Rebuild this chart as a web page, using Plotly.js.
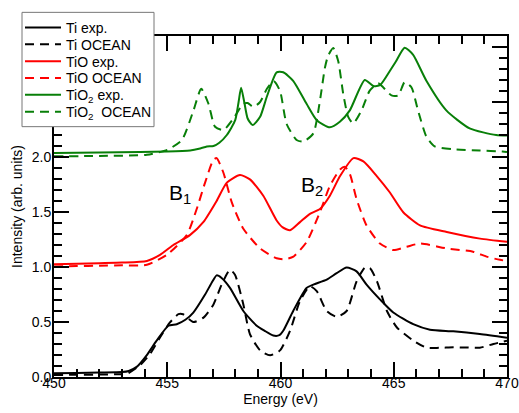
<!DOCTYPE html>
<html>
<head>
<meta charset="utf-8">
<script src="https://cdn.plot.ly/plotly-3.0.1.min.js"></script>
<style>html,body{margin:0;padding:0;background:#fff;}#chart{width:519px;height:413px;}</style>
</head>
<body>
<div id="chart"></div>
<script>
// ---- data (energy in eV, intensity in arb. units) ----
const tiExpE = [450, 451, 452, 453, 453.3, 453.65, 454.09, 454.53, 455.05, 455.42, 455.8, 456.15, 456.67, 457.0, 457.18, 457.4, 457.77, 458.36, 458.95, 459.3, 459.68, 459.95, 460.12, 460.56, 461.15, 461.45, 462.04, 462.48, 462.92, 463.36, 463.8, 464.39, 464.98, 465.86, 466.6, 467.63, 468.8, 470];
const tiExpI = [0.033, 0.036, 0.04, 0.045, 0.055, 0.092, 0.197, 0.33, 0.466, 0.48, 0.52, 0.586, 0.75, 0.87, 0.924, 0.90, 0.81, 0.60, 0.466, 0.42, 0.377, 0.38, 0.42, 0.60, 0.81, 0.84, 0.885, 0.944, 0.995, 0.96, 0.84, 0.706, 0.586, 0.48, 0.43, 0.415, 0.39, 0.356];

const tiOcE = [450, 451, 452, 452.8, 453.2, 453.8, 454.24, 454.68, 455.12, 455.49, 455.7, 456.15, 456.6, 457.04, 457.4, 457.77, 457.99, 458.36, 458.65, 459.1, 459.54, 459.98, 460.42, 460.86, 461.3, 461.6, 462.04, 462.48, 462.92, 463.36, 463.73, 463.95, 464.26, 464.7, 465.14, 465.87, 466.45, 467.0, 467.63, 468.2, 468.8, 469.4, 470];
const tiOcI = [0.018, 0.02, 0.022, 0.025, 0.027, 0.108, 0.21, 0.36, 0.496, 0.571, 0.57, 0.50, 0.54, 0.66, 0.84, 0.975, 0.93, 0.66, 0.39, 0.242, 0.197, 0.242, 0.42, 0.69, 0.825, 0.78, 0.60, 0.547, 0.60, 0.87, 0.995, 0.99, 0.87, 0.60, 0.45, 0.33, 0.266, 0.265, 0.27, 0.268, 0.266, 0.30, 0.33];

const tioExpE = [450, 451, 452, 453, 454.1, 454.68, 455.27, 456.0, 456.6, 457.18, 457.63, 458.21, 458.65, 459.24, 459.83, 460.1, 460.42, 460.86, 461.3, 461.74, 462.18, 462.63, 463.22, 463.66, 464.25, 464.83, 465.42, 466.16, 467.34, 468.81, 470];
const tioExpI = [1.025, 1.03, 1.035, 1.04, 1.055, 1.11, 1.2, 1.29, 1.41, 1.60, 1.767, 1.836, 1.797, 1.648, 1.423, 1.36, 1.334, 1.408, 1.483, 1.527, 1.648, 1.827, 1.99, 1.96, 1.827, 1.677, 1.498, 1.378, 1.318, 1.258, 1.229];

const tioOcE = [450, 451, 452, 453, 454.1, 454.98, 455.86, 456.3, 456.67, 457.04, 457.18, 457.48, 457.85, 458.36, 459.1, 459.83, 460.2, 460.57, 461.16, 461.74, 462.18, 462.63, 462.85, 463.07, 463.36, 463.8, 464.39, 464.98, 465.57, 466.16, 467.34, 468.5, 469.1, 469.69, 470];
const tioOcI = [1.005, 1.008, 1.012, 1.015, 1.02, 1.11, 1.29, 1.527, 1.767, 1.976, 1.99, 1.857, 1.587, 1.348, 1.169, 1.079, 1.07, 1.094, 1.229, 1.498, 1.737, 1.886, 1.91, 1.841, 1.617, 1.378, 1.213, 1.154, 1.184, 1.213, 1.169, 1.139, 1.094, 1.065, 1.055];

const tio2ExpE = [450, 452, 453.8, 455, 456.01, 456.4, 456.75, 457.04, 457.3, 457.63, 458.0, 458.15, 458.26, 458.4, 458.55, 458.77, 459.1, 459.4, 459.83, 460.12, 460.56, 461.15, 461.6, 462.18, 462.62, 463.06, 463.72, 464.1, 464.4, 464.82, 465.1, 465.48, 465.85, 466.44, 467.32, 468.35, 469.52, 470];
const tio2ExpI = [2.036, 2.04, 2.045, 2.05, 2.06, 2.075, 2.096, 2.10, 2.13, 2.20, 2.335, 2.5, 2.63, 2.5, 2.35, 2.29, 2.365, 2.55, 2.77, 2.77, 2.693, 2.484, 2.335, 2.27, 2.32, 2.424, 2.70, 2.645, 2.655, 2.78, 2.87, 2.993, 2.93, 2.693, 2.424, 2.26, 2.20, 2.195];

const tio2OcE = [450, 452, 454.1, 455.0, 455.65, 456.16, 456.5, 456.82, 457.11, 457.48, 457.92, 458.36, 458.55, 458.8, 459.1, 459.4, 459.7, 459.98, 460.27, 460.71, 461.0, 461.45, 461.74, 461.96, 462.1, 462.33, 462.55, 462.77, 462.99, 463.21, 463.58, 463.94, 464.31, 464.53, 464.9, 465.2, 465.48, 465.78, 466.07, 466.44, 466.81, 467.61, 468.79, 469.8, 470];
const tio2OcI = [2.006, 2.01, 2.02, 2.065, 2.155, 2.424, 2.62, 2.484, 2.275, 2.245, 2.35, 2.484, 2.49, 2.455, 2.5, 2.62, 2.69, 2.60, 2.30, 2.155, 2.14, 2.215, 2.51, 2.81, 2.92, 2.99, 2.87, 2.574, 2.365, 2.305, 2.424, 2.604, 2.67, 2.634, 2.56, 2.56, 2.68, 2.634, 2.424, 2.186, 2.096, 2.07, 2.06, 2.05, 2.045];

const seriesNames = ["Ti exp.", "Ti OCEAN", "TiO exp.", "TiO OCEAN", "TiO<sub>2</sub> exp.", "TiO<sub>2</sub>  OCEAN"];
const peakLabels = ["B<sub>1</sub>", "B<sub>2</sub>"];
const peakE = [455.55, 461.4];
const peakI = [1.66, 1.74];

// ---- styling ----
const FONT = "Liberation Sans, Arial, sans-serif";
const GREEN = "#087f08";
const RED = "#ff0000";
const BLACK = "#000000";
const DASH = "9px,6px";

const series = [
  [tiExpE, tiExpI, BLACK, "solid"],
  [tiOcE, tiOcI, BLACK, DASH],
  [tioExpE, tioExpI, RED, "solid"],
  [tioOcE, tioOcI, RED, DASH],
  [tio2ExpE, tio2ExpI, GREEN, "solid"],
  [tio2OcE, tio2OcI, GREEN, DASH]
];

// plot area: l=54, r=12, t=31, b=36 -> 453 x 346
const W = 519, H = 413, ML = 54, MR = 12, MT = 31, MB = 36;
const PW = W - ML - MR, PH = H - MT - MB;
const px2x = p => (p - ML) / PW;
const py2y = p => (H - MB - p) / PH;

const traces = series.map((s, i) => ({
  x: s[0], y: s[1], type: "scatter", mode: "lines",
  name: seriesNames[i],
  line: {color: s[2], width: 2, dash: s[3], shape: "spline", smoothing: 0.6},
  legend: i === 0 ? "legend" : "legend" + (i + 1)
}));

const layout = {
  width: W, height: H,
  margin: {l: ML, r: MR, t: MT, b: MB, pad: 0},
  paper_bgcolor: "#fff", plot_bgcolor: "#fff",
  font: {family: FONT, color: "#000", size: 14},
  showlegend: true,
  xaxis: {
    range: [450, 470], dtick: 5, tick0: 450,
    ticks: "inside", ticklen: 15, tickwidth: 2, tickcolor: "#000",
    showline: true, linewidth: 2, linecolor: "#000", mirror: "ticks",
    showgrid: false, zeroline: false, ticklabelstandoff: -8,
    minor: {dtick: 1, ticks: "inside", ticklen: 8, tickwidth: 2, tickcolor: "#000", showgrid: false},
    tickfont: {size: 14, family: FONT},
    title: {text: "Energy (eV)", font: {size: 14, family: FONT}, standoff: 2}
  },
  yaxis: {
    range: [0, 3.1], dtick: 0.5, tick0: 0, tickformat: ".1f",
    ticks: "inside", ticklen: 15, tickwidth: 2, tickcolor: "#000",
    showline: true, linewidth: 2, linecolor: "#000", mirror: "ticks",
    showgrid: false, zeroline: false, ticklabelstandoff: -2,
    minor: {dtick: 0.1, ticks: "inside", ticklen: 8, tickwidth: 2, tickcolor: "#000", showgrid: false},
    tickfont: {size: 14, family: FONT},
    title: {text: "Intensity (arb. units)", font: {size: 14, family: FONT}, standoff: 6}
  },
  shapes: [{
    type: "rect", xref: "paper", yref: "paper", layer: "above",
    x0: px2x(22), x1: px2x(154), y0: py2y(123), y1: py2y(7),
    fillcolor: "#fff", line: {color: "#777", width: 1}
  }],
  annotations: peakLabels.map((t, i) => ({
    text: t, x: peakE[i], y: peakI[i], xref: "x", yref: "y",
    showarrow: false, font: {size: 21, family: FONT, color: "#000"}
  }))
};

const rowY = [22.7, 39.8, 56.9, 74.0, 91.1, 108.2];
rowY.forEach((py, i) => {
  const key = i === 0 ? "legend" : "legend" + (i + 1);
  layout[key] = {
    x: px2x(20), y: py2y(py), xanchor: "left", yanchor: "middle",
    xref: "paper", yref: "paper",
    bgcolor: "rgba(0,0,0,0)", borderwidth: 0,
    font: {size: 14, family: FONT, color: "#000"},
    itemwidth: 36, tracegroupgap: 0
  };
});

Plotly.newPlot("chart", traces, layout, {displayModeBar: false, staticPlot: true});
</script>
</body>
</html>
